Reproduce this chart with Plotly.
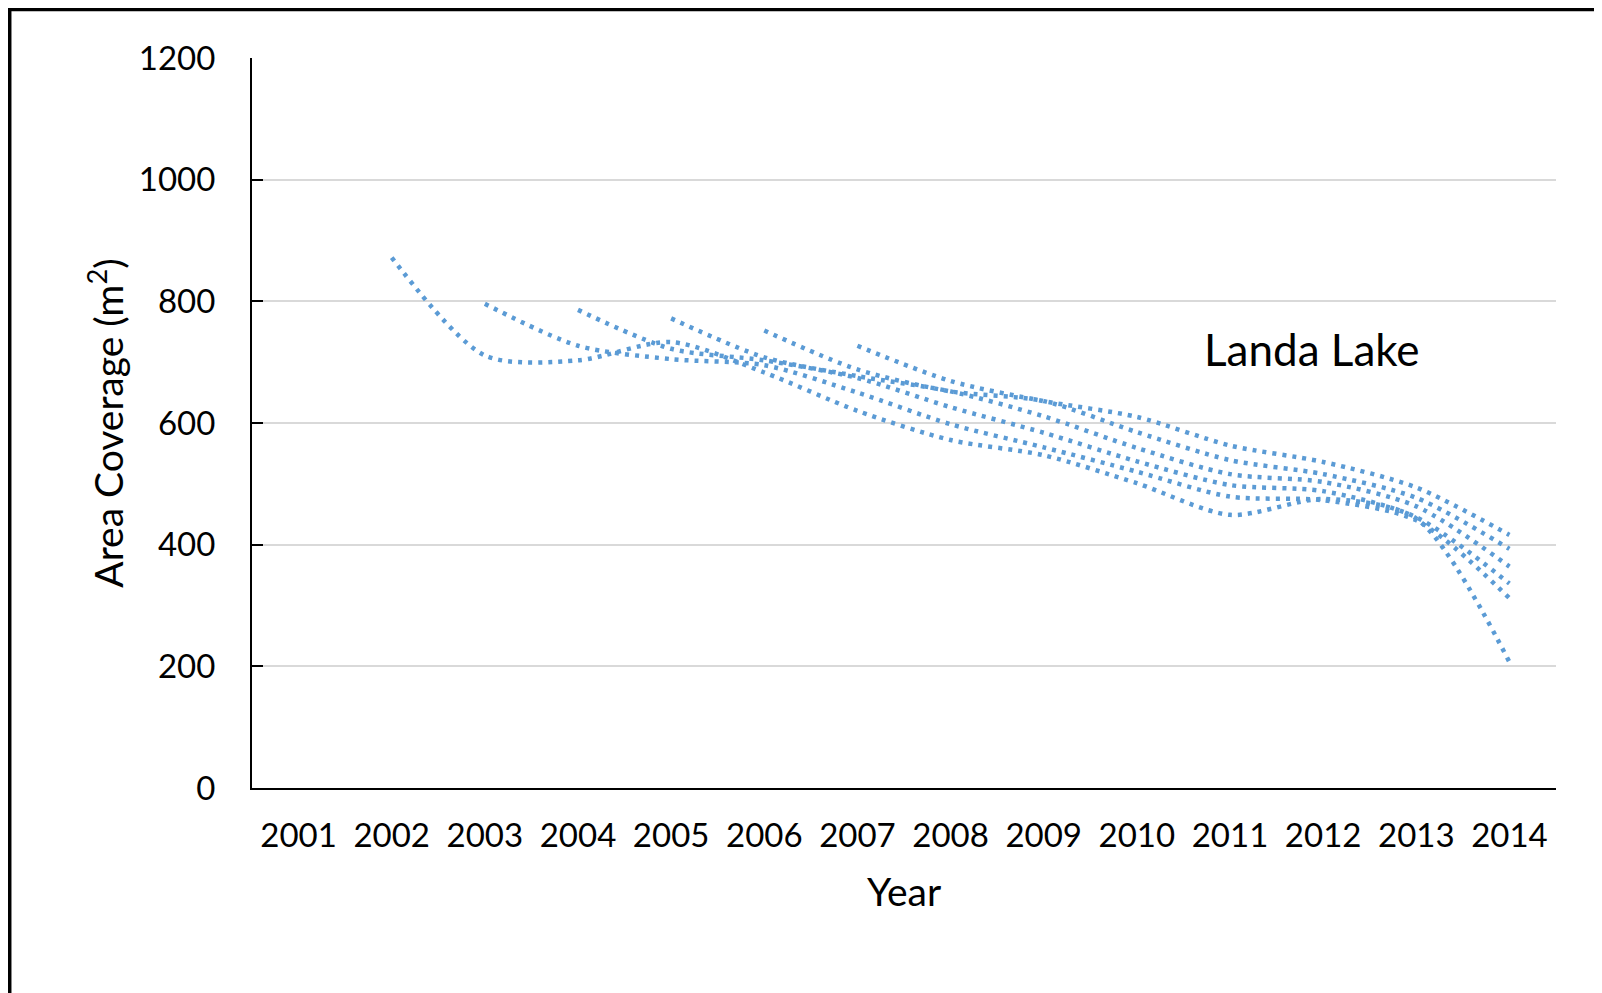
import plotly.graph_objects as go

# 横轴年份
YEARS = list(range(2001, 2015))

# 各起始年份的趋势线（面积, m²）
start_2002 = [872, 711, 703, 733, 683, 620, 572, 547, 501, 449, 475, 443, 207]
start_2003 = [796, 727, 705, 695, 650, 598, 560, 520, 479, 473, 440, 312]
start_2004 = [786, 722, 703, 674, 626, 584, 537, 498, 488, 445, 336]
start_2005 = [772, 708, 677, 652, 611, 559, 516, 503, 463, 364]
start_2006 = [752, 688, 652, 636, 585, 539, 516, 477, 393]
start_2007 = [727, 669, 636, 610, 563, 536, 494, 416]

SERIES = {
    2002: start_2002,
    2003: start_2003,
    2004: start_2004,
    2005: start_2005,
    2006: start_2006,
    2007: start_2007,
}

LINE_COLOR = '#5b9bd5'
FONT = 'Lato, Noto Sans, sans-serif'

fig = go.Figure()

for start, values in SERIES.items():
    xs = list(range(start, start + len(values)))
    fig.add_trace(go.Scatter(
        x=xs,
        y=values,
        mode='lines',
        name=str(start),
        line=dict(color=LINE_COLOR, width=4.5, dash='4px,6px',
                  shape='spline', smoothing=0.8),
        hovertemplate='%{x}: %{y}<extra></extra>'
    ))

# 外框：白色黑边框
fig.add_shape(
    type='rect', xref='paper', yref='paper',
    x0=-0.1858, x1=1.06, y0=-0.35, y1=1.0664,
    line=dict(color='black', width=3.5),
    fillcolor='white', layer='below'
)

fig.add_annotation(
    x=2011.875, y=721, text='Landa Lake', showarrow=False,
    font=dict(family=FONT, size=44, color='black')
)

fig.update_layout(
    width=1602,
    height=993,
    paper_bgcolor='#dde8f4',
    plot_bgcolor='white',
    showlegend=False,
    font=dict(family=FONT, color='black'),
    margin={'l': 244, 'r': 54, 't': 50, 'b': 213},
    xaxis=dict(
        range=[2000.5, 2014.5],
        tickvals=YEARS,
        ticktext=[str(y) for y in YEARS],
        tickfont=dict(size=33),
        showgrid=False,
        zeroline=False,
        showline=True,
        linecolor='black',
        linewidth=2,
        ticks='',
        ticklabelstandoff=17,
        title=dict(text='Year', font=dict(size=39), standoff=26),
    ),
    yaxis=dict(
        range=[0, 1200],
        dtick=200,
        tickfont=dict(size=33),
        showgrid=True,
        gridcolor='#d9d9d9',
        gridwidth=2,
        zeroline=False,
        showline=True,
        linecolor='black',
        linewidth=2,
        ticks='inside',
        ticklen=11,
        tickwidth=2,
        tickcolor='black',
        ticklabelstandoff=28,
        title=dict(text='Area Coverage (m<sup>2</sup>)', font=dict(size=39), standoff=3),
    ),
)

fig.write_html('out.html')
